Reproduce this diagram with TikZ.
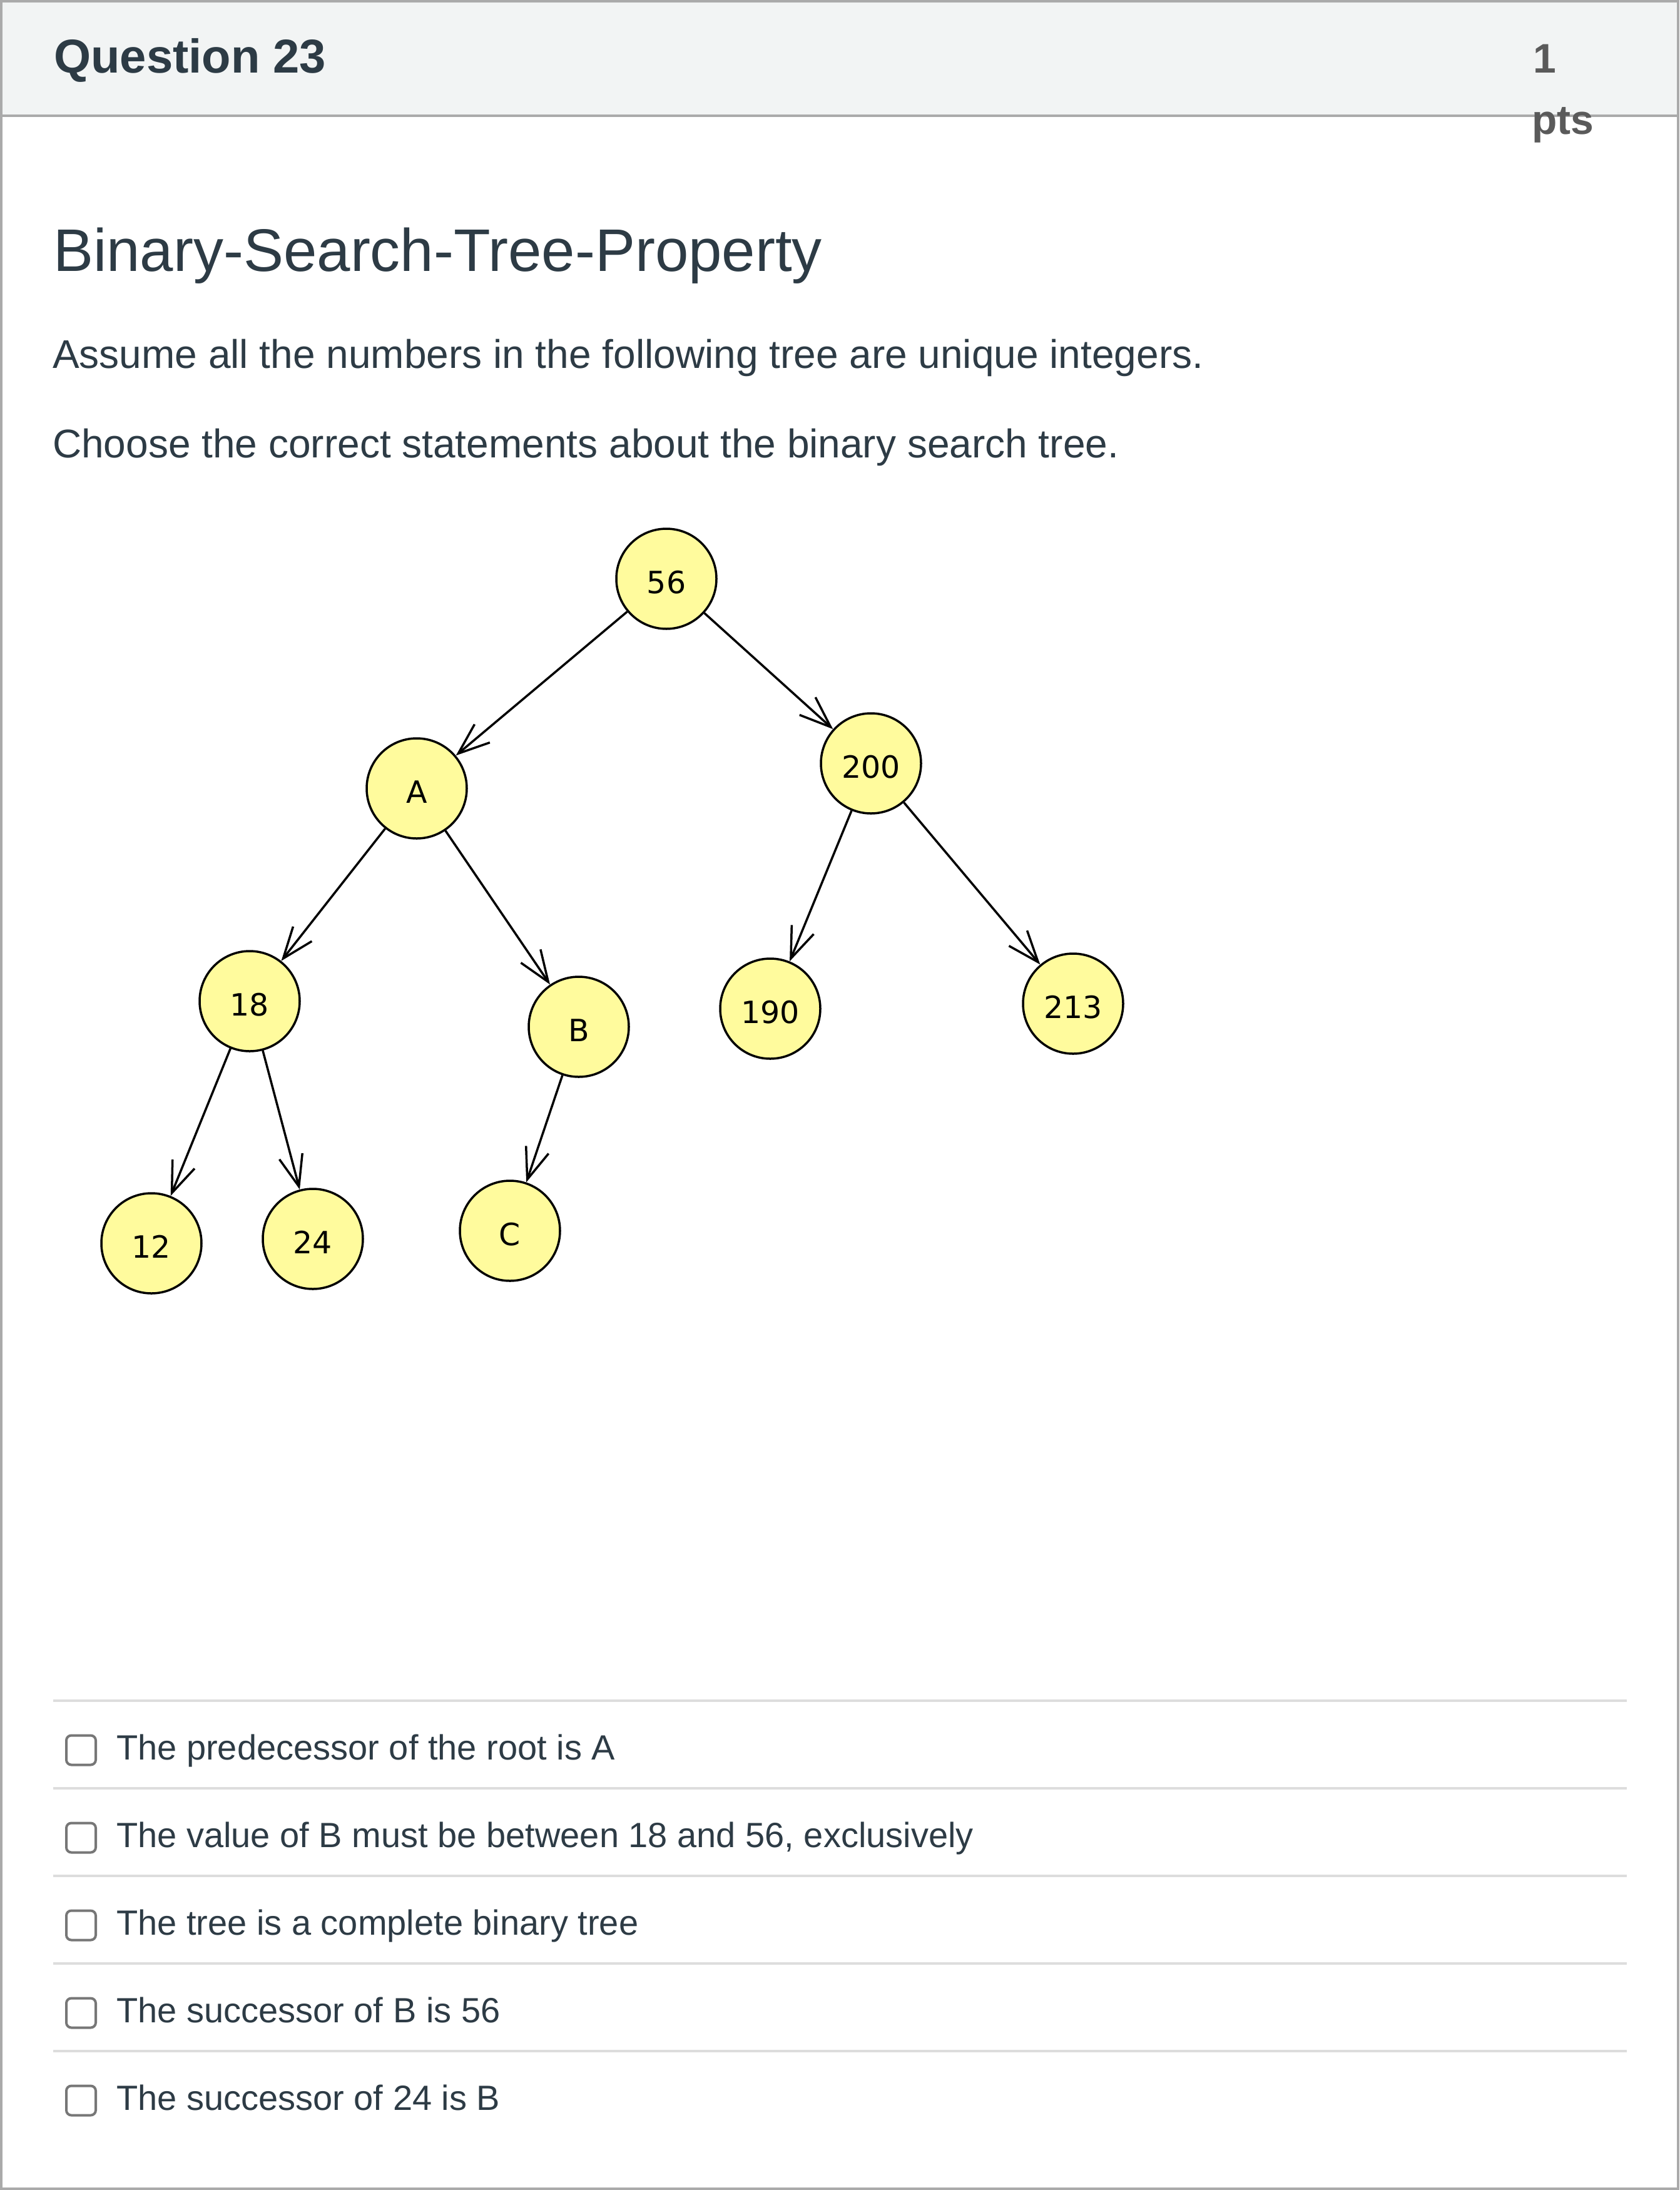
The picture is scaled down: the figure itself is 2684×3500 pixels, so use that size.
\documentclass[tikz,border=0pt]{standalone}
\usepackage{fontspec}
\setmainfont{Liberation Sans}
\newfontfamily\treefont{DejaVu Sans}
\usepackage{tikz}
\usetikzlibrary{arrows.meta, positioning}

\definecolor{canvasink}{HTML}{2D3B45}
\definecolor{framegray}{HTML}{AAAAAA}
\definecolor{headfill}{HTML}{F2F4F4}
\definecolor{rulegray}{HTML}{DDDDDD}
\definecolor{boxgray}{HTML}{777777}
\definecolor{ptsgray}{HTML}{5A5A5A}
\definecolor{nodeyellow}{RGB}{255,251,157}

\begin{document}
\begin{tikzpicture}[x=1pt, y=-1pt,
        treenode/.style={circle, draw=black, fill=nodeyellow, line width=3.5pt, minimum size=160pt, inner sep=0pt, text height=46pt, text depth=0pt, font=\treefont\fontsize{49}{49}\selectfont},
        link/.style={-{Straight Barb[length=50pt, width=38pt]}, line width=3.5pt},
        headtext/.style={anchor=base west, inner sep=0pt, font=\bfseries\fontsize{66}{80}\selectfont},
        bodytext/.style={anchor=base west, inner sep=0pt, text=canvasink, font=\fontsize{64}{77}\selectfont},
        choice/.style={anchor=base west, inner sep=0pt, text=canvasink, font=\fontsize{56}{67}\selectfont},
        tickbox/.style={rectangle, rounded corners=8pt, draw=boxgray, line width=4pt, minimum size=47pt, inner sep=0pt},
        divider/.style={rulegray, line width=4pt}
    ]
        \useasboundingbox (0,0) rectangle (2684,3500);

        % header band and frame
        \fill[headfill] (0,0) rectangle (2684,185);
        \draw[framegray, line width=4pt] (0,185) -- (2684,185);
        \draw[framegray, line width=4pt] (2,2) rectangle (2682,3498);

        \node[headtext, text=canvasink, font=\bfseries\fontsize{76}{90}\selectfont] (qtitle) at (86,117) {Question 23};
        \node[headtext, text=ptsgray] (ptsnum) at (2450,117) {1};
        \node[headtext, text=ptsgray] (ptsunit) at (2448,215) {pts};

        \node[bodytext, font=\fontsize{96}{110}\selectfont] (heading) at (85,433) {Binary-Search-Tree-Property};
        \node[bodytext] (assume) at (84,588) {Assume all the numbers in the following tree are unique integers.};
        \node[bodytext] (choose) at (84,731) {Choose the correct statements about the binary search tree.};

        % the tree
        \node[treenode] (n56) at (1065,925) {56};
        \node[treenode] (nA) at (666,1260) {A};
        \node[treenode] (n200) at (1392,1220) {200};
        \node[treenode] (n18) at (399,1600) {18};
        \node[treenode] (nB) at (925,1641) {B};
        \node[treenode] (n190) at (1231,1612) {190};
        \node[treenode] (n213) at (1715,1604) {213};
        \node[treenode] (n12) at (242,1987) {12};
        \node[treenode] (n24) at (500,1980) {24};
        \node[treenode] (nC) at (815,1967) {C};

        \draw[link] (n56) -- (nA);
        \draw[link] (n56) -- (n200);
        \draw[link] (nA) -- (n18);
        \draw[link] (nA) -- (nB);
        \draw[link] (n200) -- (n190);
        \draw[link] (n200) -- (n213);
        \draw[link] (n18) -- (n12);
        \draw[link] (n18) -- (n24);
        \draw[link] (nB) -- (nC);

        % answer choices
        \draw[divider] (85,2718) -- (2600,2718);
        \draw[divider] (85,2858) -- (2600,2858);
        \draw[divider] (85,2998) -- (2600,2998);
        \draw[divider] (85,3138) -- (2600,3138);
        \draw[divider] (85,3278) -- (2600,3278);

        \node[tickbox] (box1) at (129.5,2797) {};
        \node[tickbox] (box2) at (129.5,2937) {};
        \node[tickbox] (box3) at (129.5,3077) {};
        \node[tickbox] (box4) at (129.5,3217) {};
        \node[tickbox] (box5) at (129.5,3357) {};

        \node[choice] (opt1) at (186,2812) {The predecessor of the root is A};
        \node[choice] (opt2) at (186,2952) {The value of B must be between 18 and 56, exclusively};
        \node[choice] (opt3) at (186,3092) {The tree is a complete binary tree};
        \node[choice] (opt4) at (186,3232) {The successor of B is 56};
        \node[choice] (opt5) at (186,3372) {The successor of 24 is B};
    \end{tikzpicture}
\end{document}
